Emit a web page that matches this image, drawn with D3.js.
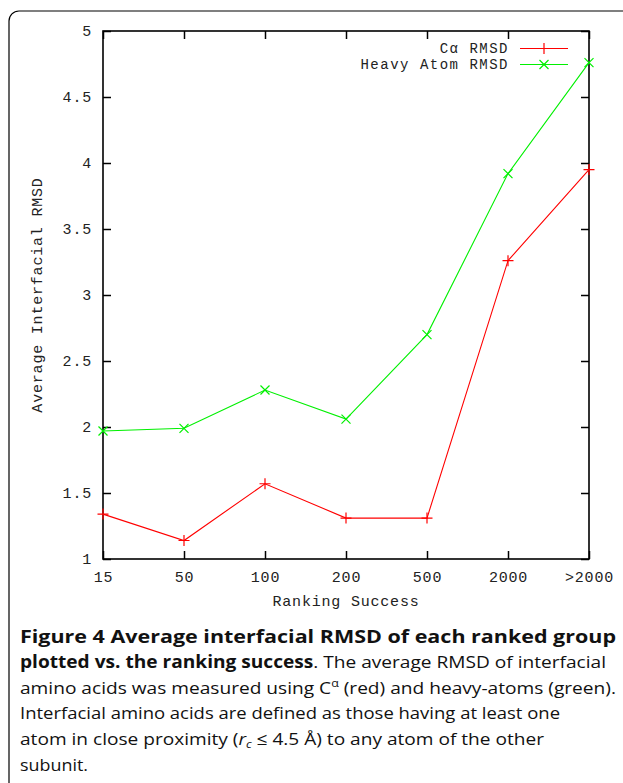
<!DOCTYPE html>
<html>
<head>
  <meta charset="UTF-8">
  <title>Figure 4</title>
  <script src="https://d3js.org/d3.v7.min.js"></script>
  <style>
    body { margin: 0; background: #fff; }
    .mono { font-family: "Liberation Mono", "DejaVu Sans Mono", monospace; font-size: 15px; letter-spacing: 0.8px; fill: #222; }
    .legend { font-size: 14px; letter-spacing: 1.5px; }
    .cap { font-family: "Open Sans", "Noto Sans", sans-serif; font-size: 17px; fill: #111; }
  </style>
</head>
<body>
  <svg id="chart" width="623" height="783"></svg>
  <script>
    // values
    const categories = ["15", "50", "100", "200", "500", "2000", ">2000"];
    const caRmsd = [1.34, 1.14, 1.57, 1.31, 1.31, 3.26, 3.95];
    const heavyRmsd = [1.97, 1.99, 2.28, 2.06, 2.70, 3.92, 4.76];
    const yTicks = [1, 1.5, 2, 2.5, 3, 3.5, 4, 4.5, 5];

    const svg = d3.select("#chart");
    const plotL = 103, plotR = 589, plotT = 31, plotB = 559;

    // outer frame with rounded corner
    svg.append("path")
      .attr("d", "M9,783 V21 A10,10 0 0 1 19,11 H623")
      .attr("fill", "none").attr("stroke", "#000").attr("stroke-width", 1.2);

    const x = d3.scalePoint().domain(categories).range([plotL, plotR]);
    const y = d3.scaleLinear().domain([1, 5]).range([plotB, plotT]);

    const axes = svg.append("g");
    axes.append("g").attr("transform", "translate(" + plotL + ",0)")
      .call(d3.axisLeft(y).tickValues(yTicks).tickSize(-8).tickPadding(11).tickFormat(d => d));
    axes.append("g").attr("transform", "translate(" + plotR + ",0)")
      .call(d3.axisRight(y).tickValues(yTicks).tickSize(-8).tickFormat(""));
    axes.append("g").attr("transform", "translate(0," + plotB + ")")
      .call(d3.axisBottom(x).tickSize(-8).tickPadding(12));
    axes.append("g").attr("transform", "translate(0," + plotT + ")")
      .call(d3.axisTop(x).tickSize(-8).tickFormat(""));
    axes.selectAll(".domain").remove();
    axes.selectAll("line").attr("stroke", "#000").attr("stroke-width", 1.5);
    axes.selectAll("text").attr("class", "mono").attr("font-family", null).attr("font-size", null).attr("fill", null);

    svg.append("rect")
      .attr("x", plotL).attr("y", plotT)
      .attr("width", plotR - plotL).attr("height", plotB - plotT)
      .attr("fill", "none").attr("stroke", "#000").attr("stroke-width", 1.6);

    // axis titles
    svg.append("text").attr("class", "mono")
      .attr("x", (plotL + plotR) / 2).attr("y", 606)
      .attr("text-anchor", "middle").text("Ranking Success");
    svg.append("text").attr("class", "mono")
      .attr("transform", "translate(42,295) rotate(-90)")
      .attr("text-anchor", "middle").text("Average Interfacial RMSD");

    const series = [
      { name: "C\u03b1 RMSD", values: caRmsd, color: "#ff0000", mark: "plus" },
      { name: "Heavy Atom RMSD", values: heavyRmsd, color: "#00f000", mark: "cross" }
    ];

    const line = d3.line().x((d, i) => x(categories[i])).y(d => y(d));

    function marker(g, cx, cy, kind, color) {
      const s = kind === "plus" ? 5.5 : 4.5;
      const p = kind === "plus"
        ? "M" + (cx - s) + "," + cy + "H" + (cx + s) + "M" + cx + "," + (cy - s) + "V" + (cy + s)
        : "M" + (cx - s) + "," + (cy - s) + "L" + (cx + s) + "," + (cy + s) + "M" + (cx - s) + "," + (cy + s) + "L" + (cx + s) + "," + (cy - s);
      g.append("path").attr("d", p).attr("stroke", color).attr("stroke-width", 1.2).attr("fill", "none");
    }

    series.forEach((s, k) => {
      const g = svg.append("g");
      g.append("path").datum(s.values)
        .attr("d", line).attr("fill", "none")
        .attr("stroke", s.color).attr("stroke-width", 1.1);
      s.values.forEach((v, i) => marker(g, x(categories[i]), y(v), s.mark, s.color));

      // legend
      const ly = 48.5 + k * 16;
      svg.append("text").attr("class", "mono legend")
        .attr("x", 509).attr("y", ly).attr("dy", "0.35em")
        .attr("text-anchor", "end").text(s.name);
      g.append("line").attr("x1", 520).attr("x2", 568).attr("y1", ly).attr("y2", ly)
        .attr("stroke", s.color).attr("stroke-width", 1.1);
      marker(g, 544, ly, s.mark, s.color);
    });

    // caption
    const cap = svg.append("g").attr("class", "cap");
    const capLines = [
      { y: 643, w: 596, parts: [{ t: "Figure 4 Average interfacial RMSD of each ranked group", b: true }] },
      { y: 668, w: 586, parts: [{ t: "plotted vs. the ranking success", b: true }, { t: ". The average RMSD of interfacial" }] },
      { y: 694, w: 596, parts: [{ t: "amino acids was measured using C" }, { t: "\u03b1", sup: true }, { t: " (red) and heavy-atoms (green)." }] },
      { y: 719, w: 540, parts: [{ t: "Interfacial amino acids are defined as those having at least one" }] },
      { y: 745, w: 524, parts: [{ t: "atom in close proximity (" }, { t: "r", i: true }, { t: "c", i: true, sub: true }, { t: " \u2264 4.5 \u00c5) to any atom of the other" }] },
      { y: 771, w: 68, parts: [{ t: "subunit." }] }
    ];
    capLines.forEach(l => {
      const t = cap.append("text").attr("x", 20).attr("y", l.y)
        .attr("textLength", l.w).attr("lengthAdjust", "spacingAndGlyphs");
      l.parts.forEach(p => {
        const sp = t.append("tspan").text(p.t);
        if (p.b) sp.attr("font-weight", "bold");
        if (p.i) sp.attr("font-style", "italic");
        if (p.sup) sp.attr("baseline-shift", "super").attr("font-size", "11px");
        if (p.sub) sp.attr("baseline-shift", "-3").attr("font-size", "11px");
      });
    });
  </script>
</body>
</html>
